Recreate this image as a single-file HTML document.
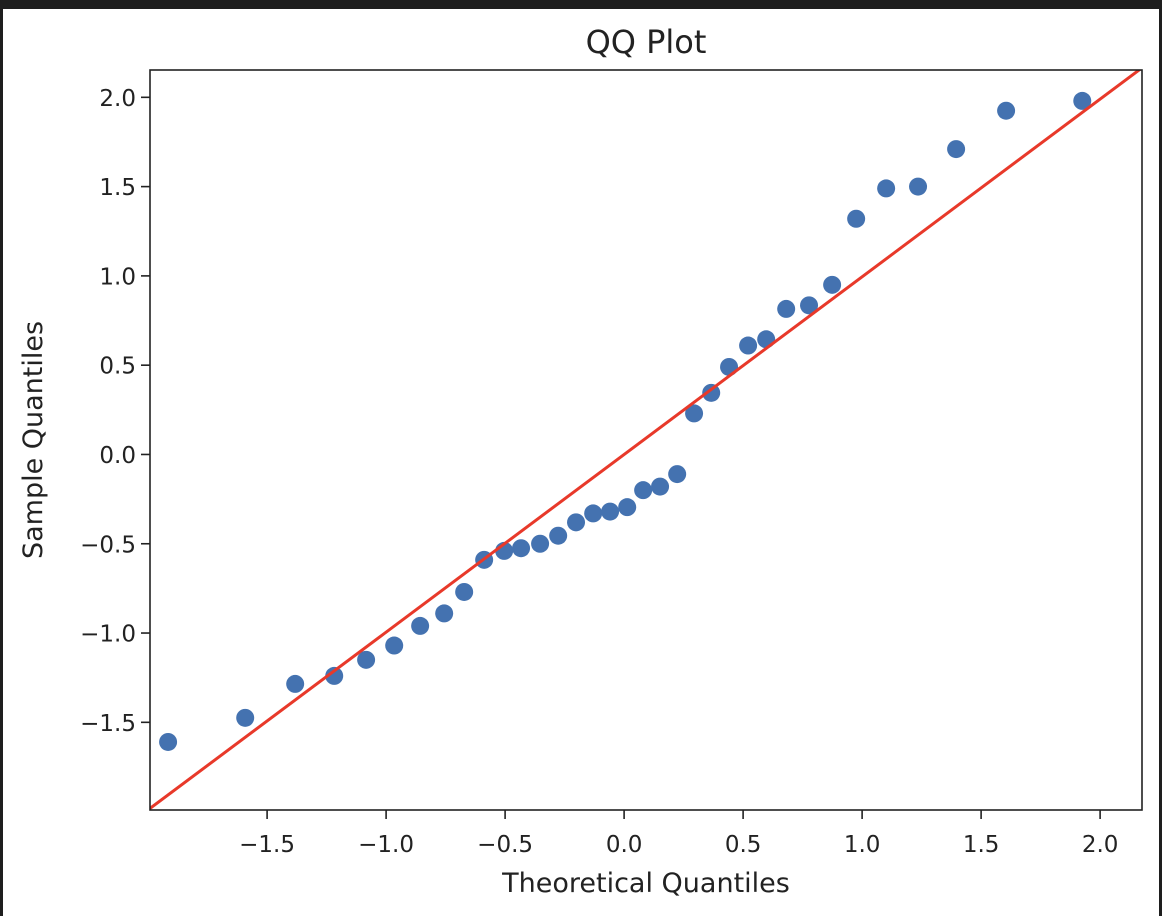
<!DOCTYPE html>
<html><head><meta charset="utf-8"><style>
html,body{margin:0;padding:0;background:#1e1e1e;}
svg{display:block;}
text{font-family:"DejaVu Sans","Liberation Sans",sans-serif;fill:#222;}
</style></head><body>
<svg id="chart" width="1162" height="916">
<rect x="3" y="9" width="1156" height="907" fill="#fff"/>
<text x="646" y="53" font-size="32" text-anchor="middle">QQ Plot</text>
<text x="646" y="892" font-size="27" text-anchor="middle">Theoretical Quantiles</text>
<text transform="translate(42,440) rotate(-90)" font-size="27" text-anchor="middle">Sample Quantiles</text>
<g id="plot"></g>
</svg>
<script>
const theoretical=[-1.916,-1.592,-1.382,-1.218,-1.084,-0.966,-0.857,-0.756,-0.672,-0.588,-0.504,-0.433,-0.353,-0.277,-0.202,-0.130,-0.059,0.013,0.080,0.151,0.223,0.294,0.366,0.441,0.521,0.597,0.681,0.777,0.874,0.975,1.101,1.235,1.395,1.605,1.925];
const sample=[-1.61,-1.475,-1.285,-1.24,-1.15,-1.07,-0.96,-0.89,-0.77,-0.59,-0.54,-0.525,-0.50,-0.455,-0.38,-0.33,-0.32,-0.295,-0.20,-0.18,-0.11,0.23,0.345,0.49,0.61,0.645,0.815,0.835,0.95,1.32,1.49,1.50,1.71,1.925,1.98];
const xTicks=[-1.5,-1.0,-0.5,0.0,0.5,1.0,1.5,2.0];
const yTicks=[-1.5,-1.0,-0.5,0.0,0.5,1.0,1.5,2.0];
const lineSlope=0.995, lineIntercept=0.0;

const L=150,R=1142,T=70,B=810;
const xMin=-1.992,xMax=2.176,yMin=-1.991,yMax=2.153;
const sx=v=>L+(v-xMin)/(xMax-xMin)*(R-L);
const sy=v=>B-(v-yMin)/(yMax-yMin)*(B-T);
const NS='http://www.w3.org/2000/svg';
const g=document.getElementById('plot');
function mk(tag,attrs){const e=document.createElementNS(NS,tag);for(const k in attrs)e.setAttribute(k,attrs[k]);g.appendChild(e);return e;}
const fmt=v=>(v<0?'\u2212':'')+Math.abs(v).toFixed(1);
xTicks.forEach(v=>{
  const t=mk('line',{x1:sx(v),x2:sx(v),y1:B,y2:B+9,stroke:'#222','stroke-width':1.6});
  
  
  const l=mk('text',{x:sx(v),y:B+42,'font-size':23,'text-anchor':'middle'});
  l.textContent=fmt(v);
  
  
});
yTicks.forEach(v=>{
  const t=mk('line',{x1:L-9,x2:L,y1:sy(v),y2:sy(v),stroke:'#222','stroke-width':1.6});
  
  
  const l=mk('text',{x:L-14,y:sy(v)+8.5,'font-size':23,'text-anchor':'end'});
  l.textContent=fmt(v);
  
  
});
theoretical.forEach((x,i)=>{
  const c=mk('circle',{cx:sx(x),cy:sy(sample[i]),r:9,fill:'#4472b0'});
  
  
});
const clip=mk('clipPath',{id:'pc'});
const cr=document.createElementNS(NS,'rect');
cr.setAttribute('x',L);cr.setAttribute('y',T);cr.setAttribute('width',R-L);cr.setAttribute('height',B-T);
clip.appendChild(cr);
const rl=mk('line',{x1:sx(xMin),y1:sy(lineIntercept+lineSlope*xMin),x2:sx(xMax),y2:sy(lineIntercept+lineSlope*xMax),stroke:'#e8392a','stroke-width':3,'clip-path':'url(#pc)'});


const fr=mk('rect',{x:L,y:T,width:R-L,height:B-T,fill:'none',stroke:'#222','stroke-width':1.6});


</script>
</body></html>
